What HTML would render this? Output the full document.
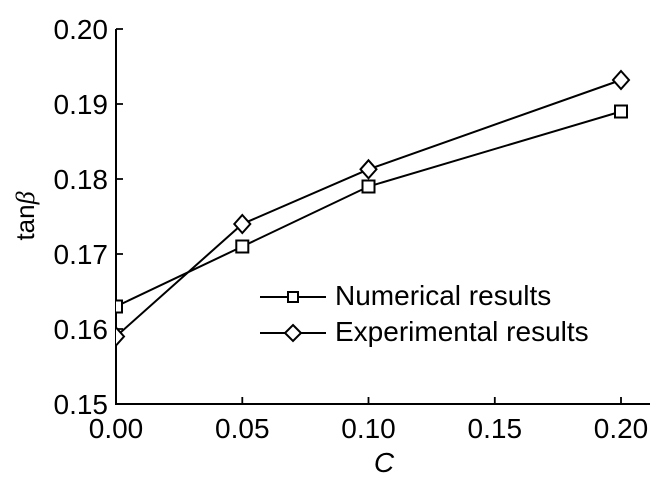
<!DOCTYPE html><html><head><style>body{margin:0;background:#fff}</style></head><body>
<svg width="663" height="487" xmlns="http://www.w3.org/2000/svg" font-family="Liberation Sans, Arial, sans-serif" fill="none" stroke="#000" stroke-width="2">
<defs><clipPath id="c"><rect x="116" y="0" width="550" height="405"/></clipPath></defs>
<path d="M116,29V404H650"/>
<g stroke-width="1.8">
<path d="M116,29h7M116,104h7M116,179h7M116,254h7M116,329h7"/>
<path d="M242.3,404v-7M368.5,404v-7M494.8,404v-7M621,404v-7"/>
</g>
<g fill="#000" stroke="none" font-size="28" text-anchor="end">
<text x="108" y="39">0.20</text><text x="108" y="114">0.19</text><text x="108" y="189">0.18</text><text x="108" y="264">0.17</text><text x="108" y="339">0.16</text><text x="108" y="414">0.15</text>
</g>
<g fill="#000" stroke="none" font-size="28" text-anchor="middle">
<text x="116" y="438">0.00</text><text x="242.3" y="438">0.05</text><text x="368.5" y="438">0.10</text><text x="494.8" y="438">0.15</text><text x="621" y="438">0.20</text>
<text x="384" y="472" font-style="italic">C</text>
<text transform="translate(34,216) rotate(-90)" font-size="26">tan<tspan font-style="italic" font-family="Liberation Serif, serif">β</tspan></text>
</g>
<g clip-path="url(#c)">
<polyline points="116,306.5 242.3,246.5 368.5,186.5 621,111.5"/>
<polyline points="116,336.5 242.3,224 368.5,169.3 621,80"/>
<g fill="#fff">
<rect x="110" y="300.5" width="12" height="12"/><rect x="236.3" y="240.5" width="12" height="12"/><rect x="362.5" y="180.5" width="12" height="12"/><rect x="615" y="105.5" width="12" height="12"/>
<path d="M116,327.5l8,9l-8,9l-8,-9z"/>
<path d="M242.3,215l8,9l-8,9l-8,-9z"/><path d="M368.5,160.3l8,9l-8,9l-8,-9z"/><path d="M621,71l8,9l-8,9l-8,-9z"/>
</g></g>
<path d="M260,297h66M260,333h66"/>
<rect x="288" y="292" width="10" height="10" fill="#fff"/>
<path d="M293,325l8,8l-8,8l-8,-8z" fill="#fff"/>
<g fill="#000" stroke="none" font-size="28"><text x="335" y="305">Numerical results</text><text x="335" y="341">Experimental results</text></g>
</svg></body></html>
